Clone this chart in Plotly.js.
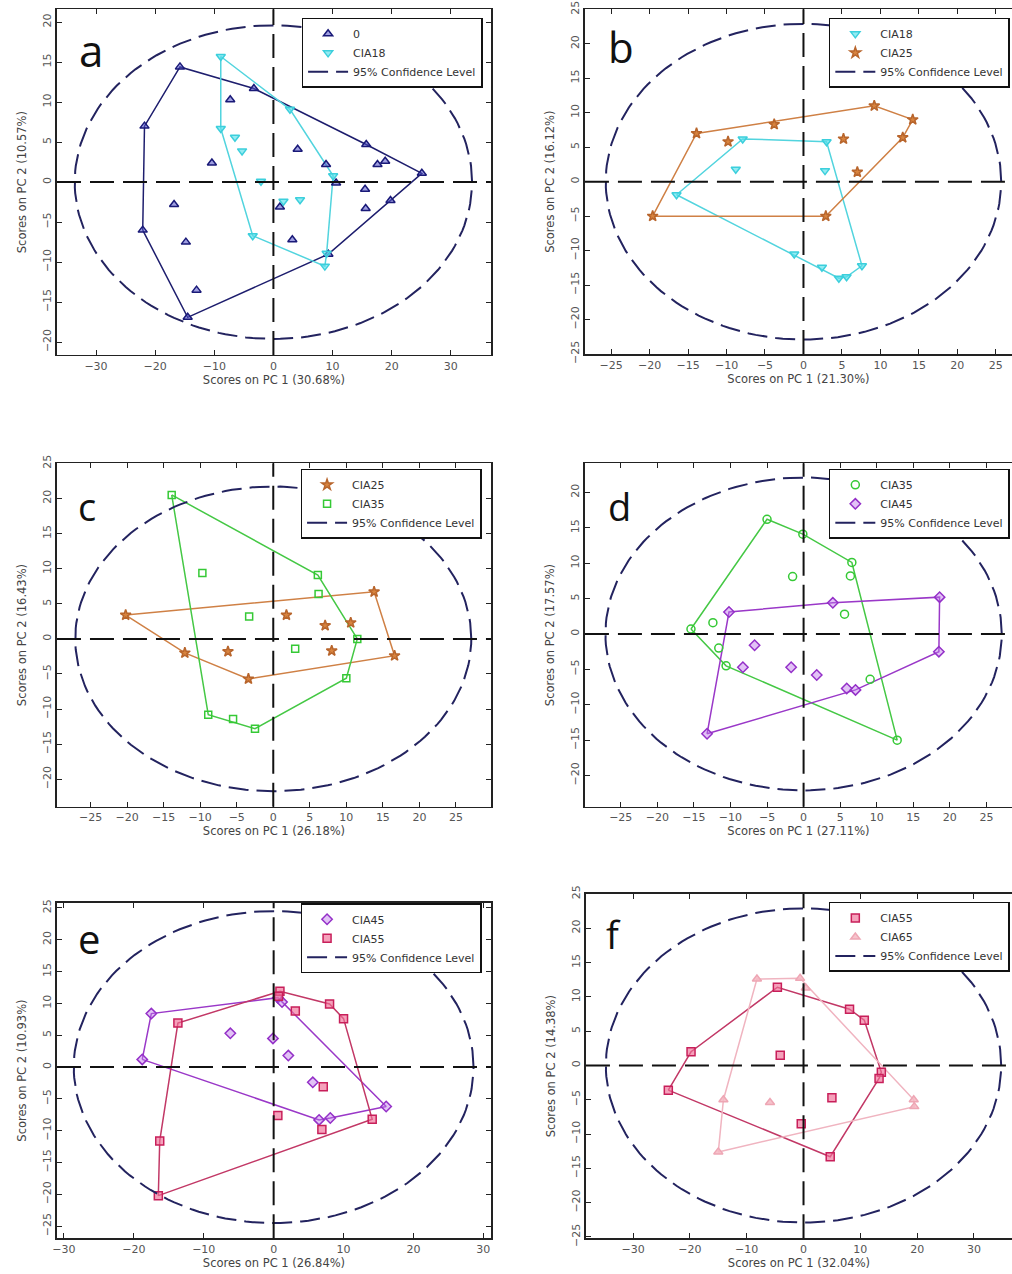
<!DOCTYPE html>
<html>
<head>
<meta charset="utf-8">
<script src="https://cdn.plot.ly/plotly-3.0.1.min.js"></script>
<style>html,body{margin:0;padding:0;background:#fff;}#chart{width:1012px;height:1274px;}</style>
</head>
<body>
<div id="chart"></div>
<script>
// ---------- data ----------
// Panel a
const A_G0_X = [-15.8,-21.8,-22.1,-14.5,-3.3,-7.3,-10.4,-16.8,-14.8,-13.0,4.1,1.1,3.2,8.9,10.6,9.3,15.7,15.5,15.6,17.6,18.9,19.8,25.1];
const A_G0_Y = [14.4,7.0,-6.0,-16.9,11.7,10.3,2.4,-2.8,-7.5,-13.5,4.1,-3.1,-7.2,2.2,-0.1,-9.0,4.7,-0.9,-3.3,2.2,2.6,-2.3,1.1];
const A_C18_X = [-8.9,-8.9,-6.5,-5.3,-2.1,2.8,1.7,4.5,-3.5,8.7,10.1,9.0];
const A_C18_Y = [15.7,6.7,5.6,3.9,0.1,9.1,-2.4,-2.2,-6.7,-10.5,0.8,-8.9];
// Panel b
const B_C18_X = [-7.9,3.0,-8.8,2.8,-16.5,-1.2,2.4,4.6,5.6,7.6];
const B_C18_Y = [6.2,5.8,1.8,1.6,-1.9,-10.5,-12.4,-14.0,-13.8,-12.2];
const B_C25_X = [-13.9,-3.8,9.2,14.2,12.9,5.2,-9.8,7.0,2.9,-19.6];
const B_C25_Y = [7.0,8.3,11.0,9.0,6.4,6.2,5.8,1.4,-5.0,-5.0];
// Panel c
const C_C25_X = [-20.2,-12.1,-6.2,-3.4,1.8,7.1,8.0,10.6,13.8,16.6];
const C_C25_Y = [3.4,-2.0,-1.8,-5.7,3.4,1.9,-1.7,2.3,6.7,-2.4];
const C_C35_X = [-13.9,-9.7,-3.3,6.1,6.2,3.0,10.0,11.5,-8.9,-5.5,-2.5];
const C_C35_Y = [20.5,9.4,3.2,9.1,6.4,-1.4,-5.6,0.0,-10.8,-11.4,-12.8];
// Panel d
const D_C35_X = [-5.0,-0.1,6.6,6.4,-1.5,5.6,-12.4,-15.4,-11.6,-10.6,9.1,12.8];
const D_C35_Y = [16.2,14.1,10.1,8.2,8.1,2.8,1.6,0.7,-2.0,-4.5,-6.4,-15.0];
const D_C45_X = [-10.2,4.0,18.6,18.5,-6.7,-8.3,-1.7,1.8,5.9,7.1,-13.2];
const D_C45_Y = [3.1,4.4,5.2,-2.5,-1.6,-4.7,-4.7,-5.8,-7.7,-7.9,-14.1];
// Panel e
const E_C45_X = [-17.5,-18.8,-6.2,-0.1,0.6,1.2,2.1,5.6,6.5,8.1,16.1];
const E_C45_Y = [8.4,1.2,5.3,4.5,10.9,10.2,1.8,-2.4,-8.3,-8.0,-6.2];
const E_C55_X = [0.9,0.7,3.1,8.0,10.0,-13.7,7.1,0.6,6.9,14.1,-16.3,-16.5];
const E_C55_Y = [11.9,11.1,8.8,9.9,7.6,6.9,-3.1,-7.6,-9.8,-8.2,-11.6,-20.2];
// Panel f
const F_C55_X = [-4.6,8.1,10.7,-19.8,-4.1,13.7,13.3,-23.8,5.0,-0.4,4.7];
const F_C55_Y = [11.4,8.2,6.6,2.0,1.5,-1.0,-1.9,-3.6,-4.7,-8.5,-13.3];
const F_C65_X = [-8.2,-0.6,0.4,-14.1,-5.9,-15.0,19.4,19.5];
const F_C65_Y = [12.6,12.7,11.3,-5.0,-5.4,-12.6,-5.0,-6.0];
// 95% confidence ellipse semi-axes [PC1, PC2] per panel
const ELLIPSE_A = [33.6, 19.6];
const ELLIPSE_B = [25.7, 22.9];
const ELLIPSE_C = [27.1, 21.7];
const ELLIPSE_D = [27.1, 22.1];
const ELLIPSE_E = [28.6, 24.5];
const ELLIPSE_F = [34.8, 22.9];
// axis titles
const X_TITLES = ['Scores on PC 1 (30.68%)','Scores on PC 1 (21.30%)','Scores on PC 1 (26.18%)','Scores on PC 1 (27.11%)','Scores on PC 1 (26.84%)','Scores on PC 1 (32.04%)'];
const Y_TITLES = ['Scores on PC 2 (10.57%)','Scores on PC 2 (16.12%)','Scores on PC 2 (16.43%)','Scores on PC 2 (17.57%)','Scores on PC 2 (10.93%)','Scores on PC 2 (14.38%)'];
const LETTERS = ['a','b','c','d','e','f'];
const CONF_LABEL = '95% Confidence Level';

// ---------- styles ----------
const ST = {
  g0:   {symbol:'triangle-up',   fill:'rgba(80,80,200,0.55)',  edge:'#1a1a78', hull:'#1e1e6e', size:8},
  c18:  {symbol:'triangle-down', fill:'rgba(90,225,235,0.65)', edge:'#3ccfdc', hull:'#52d4de', size:8},
  c25:  {symbol:'star',          fill:'#d8843f',               edge:'#b8652c', hull:'#cf8045', size:8},
  c35s: {symbol:'square-open',   fill:'#35c935',               edge:'#35c935', hull:'#45c845', size:7},
  c35c: {symbol:'circle-open',   fill:'#35c935',               edge:'#35c935', hull:'#45c845', size:8},
  c45:  {symbol:'diamond',       fill:'rgba(190,120,235,0.45)',edge:'#9430c8', hull:'#9a38c8', size:8},
  c55:  {symbol:'square',        fill:'rgba(240,110,150,0.65)',edge:'#c81f5a', hull:'#c23866', size:8},
  c65:  {symbol:'triangle-up',   fill:'rgba(245,185,195,0.85)',edge:'#eea6b4', hull:'#f0b4c0', size:8}
};
const FONT = 'DejaVu Sans, Liberation Sans, sans-serif';

function hull(xs, ys){
  const p = xs.map((x,i)=>[x,ys[i]]).sort((a,b)=>a[0]-b[0]||a[1]-b[1]);
  const cross=(o,a,b)=>(a[0]-o[0])*(b[1]-o[1])-(a[1]-o[1])*(b[0]-o[0]);
  const lo=[],up=[];
  for(const q of p){while(lo.length>=2&&cross(lo[lo.length-2],lo[lo.length-1],q)<=0)lo.pop();lo.push(q);}
  for(let i=p.length-1;i>=0;i--){const q=p[i];while(up.length>=2&&cross(up[up.length-2],up[up.length-1],q)<=0)up.pop();up.push(q);}
  up.pop();lo.pop();
  const h=lo.concat(up); h.push(h[0]);
  return {x:h.map(v=>v[0]), y:h.map(v=>v[1])};
}

const panels = [
  {series:[['0',A_G0_X,A_G0_Y,ST.g0],['CIA18',A_C18_X,A_C18_Y,ST.c18]], ell:ELLIPSE_A,
   xd:[0.0563,0.4852], yd:[0.7214,0.9927], xr:[-36.6,36.8], yr:[-21.6,21.6], dx:10, dy:5, right:true,
   leg:[0.298,0.986], letter:[77,50,44]},
  {series:[['CIA18',B_C18_X,B_C18_Y,ST.c18],['CIA25',B_C25_X,B_C25_Y,ST.c25]], ell:ELLIPSE_B,
   xd:[0.578,1], yd:[0.7221,0.9927], xr:[-28.4,27.1], yr:[-25,25], dx:5, dy:5, right:false,
   leg:[0.819,0.986], letter:[606,47,42]},
  {series:[['CIA25',C_C25_X,C_C25_Y,ST.c25],['CIA35',C_C35_X,C_C35_Y,ST.c35s]], ell:ELLIPSE_C,
   xd:[0.0563,0.4852], yd:[0.3668,0.6363], xr:[-29.6,29.8], yr:[-23.9,25], dx:5, dy:5, right:true,
   leg:[0.297,0.632], letter:[76,506,38]},
  {series:[['CIA35',D_C35_X,D_C35_Y,ST.c35c],['CIA45',D_C45_X,D_C45_Y,ST.c45]], ell:ELLIPSE_D,
   xd:[0.578,1], yd:[0.3668,0.6363], xr:[-29.9,28.5], yr:[-24.4,24.1], dx:5, dy:5, right:false,
   leg:[0.819,0.632], letter:[606,506,38]},
  {series:[['CIA45',E_C45_X,E_C45_Y,ST.c45],['CIA55',E_C55_X,E_C55_Y,ST.c55]], ell:ELLIPSE_E,
   xd:[0.0563,0.4852], yd:[0.028,0.2914], xr:[-31.0,31.1], yr:[-26.9,25.8], dx:10, dy:5, right:true,
   leg:[0.297,0.291], letter:[76,938,40]},
  {series:[['CIA55',F_C55_X,F_C55_Y,ST.c55],['CIA65',F_C65_X,F_C65_Y,ST.c65]], ell:ELLIPSE_F,
   xd:[0.579,1], yd:[0.028,0.2983], xr:[-38.3,36.7], yr:[-25.2,25], dx:10, dy:5, right:false,
   leg:[0.819,0.292], letter:[604,934,38]}
];

const data = [];
const layout = {
  width:1012, height:1274, margin:{l:0,r:0,t:0,b:0,autoexpand:false},
  paper_bgcolor:'#fff', plot_bgcolor:'#fff',
  font:{family:FONT, size:10, color:'#444'},
  shapes:[], annotations:[]
};

panels.forEach((p,i)=>{
  const n = i===0 ? '' : String(i+1);
  const xa='x'+n, ya='y'+n, lg='legend'+n;
  p.series.forEach(s=>{
    const h = hull(s[1], s[2]);
    data.push({type:'scatter', mode:'lines', x:h.x, y:h.y, xaxis:xa, yaxis:ya, showlegend:false,
      hoverinfo:'skip', line:{color:s[3].hull, width:1.5}});
  });
  p.series.forEach(s=>{
    const st=s[3];
    data.push({type:'scatter', mode:'markers', name:s[0], x:s[1], y:s[2], xaxis:xa, yaxis:ya, legend:lg,
      marker:{symbol:st.symbol, size:st.size, color:st.fill, line:{color:st.edge, width:1.5}}});
  });
  const ex=[], ey=[];
  for(let k=0;k<=180;k++){const t=2*Math.PI*k/180; ex.push(p.ell[0]*Math.cos(t)); ey.push(p.ell[1]*Math.sin(t));}
  data.push({type:'scatter', mode:'lines', name:CONF_LABEL, x:ex, y:ey, xaxis:xa, yaxis:ya, legend:lg,
    line:{color:'#23235f', width:2, dash:'20px,8px'}, hoverinfo:'skip'});

  layout['xaxis'+n] = {domain:p.xd, range:p.xr, anchor:ya, dtick:p.dx, tick0:0,
    ticks:'inside', ticklen:5, tickcolor:'#222', showline:true, linecolor:'#222', linewidth:1.5,
    mirror:'ticks', showgrid:false, zeroline:false, tickfont:{family:FONT,size:11,color:'#555'},
    title:{text:X_TITLES[i], font:{family:FONT,size:11.5,color:'#444'}, standoff:2}};
  layout['yaxis'+n] = {domain:p.yd, range:p.yr, anchor:xa, dtick:p.dy, tick0:0,
    ticks:'inside', ticklen:5, tickcolor:'#222', showline:true, linecolor:'#222', linewidth:1.5,
    mirror:p.right?'ticks':false, showgrid:false, zeroline:false, tickangle:-90,
    tickfont:{family:FONT,size:11,color:'#555'},
    title:{text:Y_TITLES[i], font:{family:FONT,size:11.5,color:'#444'}, standoff:12}};
  layout[lg] = {x:p.leg[0], y:p.leg[1], xanchor:'left', yanchor:'top', xref:'paper', yref:'paper',
    bgcolor:'#fff', bordercolor:'#111', borderwidth:1.5, font:{family:FONT,size:11,color:'#333'},
    tracegroupgap:0, itemwidth:40};
  layout.shapes.push({type:'line', xref:xa, yref:ya+' domain', x0:0, x1:0, y0:0, y1:1,
    line:{color:'#111', width:2, dash:'24px,9px'}, layer:'above'});
  layout.shapes.push({type:'line', xref:xa+' domain', yref:ya, x0:0, x1:1, y0:0, y1:0,
    line:{color:'#111', width:2, dash:'24px,9px'}, layer:'above'});
  layout.annotations.push({text:LETTERS[i], xref:'paper', yref:'paper', x:p.letter[0]/1012,
    y:1-p.letter[1]/1274, xanchor:'left', yanchor:'middle', showarrow:false,
    font:{family:'Open Sans, sans-serif', size:p.letter[2], color:'#111'}});
});

Plotly.newPlot('chart', data, layout, {staticPlot:true});
</script>
</body>
</html>
